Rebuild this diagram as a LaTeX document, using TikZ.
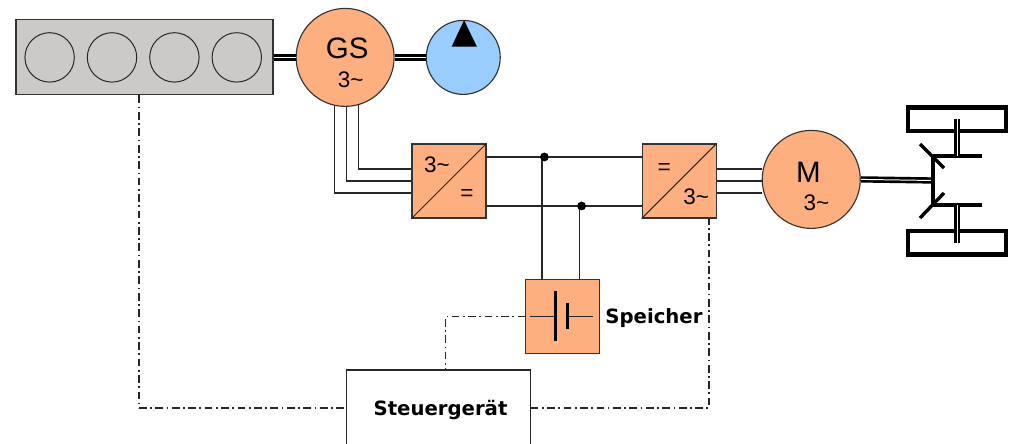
\documentclass[tikz,border=0pt]{standalone}
\usepackage{fontspec}
\setmainfont{Liberation Sans}
\newfontfamily\boldlabel{DejaVu Sans Bold}
\usepackage{tikz}
\usetikzlibrary{arrows.meta, positioning, calc}
\usepackage{xcolor}
\definecolor{elecorange}{HTML}{FDAF80}
\definecolor{enginegray}{HTML}{CBCAC8}
\definecolor{pumpblue}{HTML}{99CCFF}
\tikzstyle{machine} = [circle, draw=black!80, fill=elecorange, line width=0.8pt, minimum size=2.45cm, inner sep=0pt]
\tikzstyle{converter} = [rectangle, draw=black!80, fill=elecorange, line width=0.8pt, minimum size=1.85cm, inner sep=0pt]
\tikzstyle{cylinder} = [circle, draw=black!85, line width=0.7pt, minimum size=1.235cm, inner sep=0pt]
\tikzstyle{wheel} = [rectangle, draw=black, line width=3.2pt, minimum width=2.45cm, minimum height=0.59cm, inner sep=0pt]
\tikzstyle{junction} = [circle, fill=black, minimum size=0.22cm, inner sep=0pt]
\tikzstyle{bigtext} = [inner sep=0pt, font=\fontsize{21}{24}\selectfont]
\tikzstyle{phase} = [inner sep=0pt, font=\fontsize{16}{18}\selectfont]
\tikzstyle{boldtext} = [inner sep=0pt, font=\boldlabel\fontsize{14}{16}\selectfont]
\tikzstyle{wire} = [draw=black!85, line width=0.75pt]
\tikzstyle{shaft} = [draw=black, line width=1.9pt, double=white, double distance=0.7pt]
\tikzstyle{axle} = [draw=black, line width=2.4pt]
\tikzstyle{control} = [draw=black!85, line width=0.9pt, dash pattern=on 5.5pt off 2.5pt on 1.2pt off 2.5pt]

\begin{document}
\begin{tikzpicture}
  \clip (0,0) rectangle (25.275,11.075);

  % Combustion engine with generator and pump
  \node[rectangle, draw=black!80, fill=enginegray, line width=0.8pt, minimum width=6.425cm, minimum height=1.875cm, inner sep=0pt] (engine) at (3.6125,9.64) {};
  \node[cylinder, right=0.225cm of engine.west] (cyl1) {};
  \node[cylinder, right=0.3cm of cyl1] (cyl2) {};
  \node[cylinder, right=0.3cm of cyl2] (cyl3) {};
  \node[cylinder, right=0.3cm of cyl3] (cyl4) {};
  \node[machine, right=0.55cm of engine] (gs) {};
  \node[machine, fill=pumpblue, minimum size=1.85cm, right=0.775cm of gs] (pump) {};
  \node[bigtext] (gsname) at ([xshift=0.05cm,yshift=0.23cm]gs.center) {GS};
  \node[phase] (gsphase) at ([xshift=0.14cm,yshift=-0.56cm]gs.center) {3\textasciitilde};

  % Converters and traction motor
  \node[converter] (conva) at (11.225,6.55) {};
  \node[converter, right=3.875cm of conva] (convb) {};
  \node[machine, right=1.125cm of convb, yshift=0.04cm] (motor) {};
  \node[phase] (convain) at ([xshift=-0.3cm,yshift=0.4cm]conva.center) {3\textasciitilde};
  \node[phase] (convaout) at ([xshift=0.45cm,yshift=-0.35cm]conva.center) {=};
  \node[phase] (convbin) at ([xshift=-0.375cm,yshift=0.3cm]convb.center) {=};
  \node[phase] (convbout) at ([xshift=0.425cm,yshift=-0.4cm]convb.center) {3\textasciitilde};
  \node[bigtext] (motorname) at ([xshift=-0.07cm,yshift=0.17cm]motor.center) {M};
  \node[phase] (motorphase) at ([xshift=0.13cm,yshift=-0.58cm]motor.center) {3\textasciitilde};

  % Storage and control unit
  \node[converter] (speicher) at (14.07,3.17) {};
  \node[boldtext, right=0.12cm of speicher, yshift=-0.05cm] (speichername) {Speicher};
  \node[rectangle, draw=black!85, line width=0.8pt, minimum width=4.59cm, minimum height=2cm, inner sep=0pt, boldtext] (steuer) at (10.96,0.825) {\kern3pt Steuergerät};

  % Wheels
  \node[wheel] (wheelt) at (23.925,8.09) {};
  \node[wheel] (wheelb) at (23.925,5.01) {};
  \coordinate (axt) at (23.325,7.175);
  \coordinate (axb) at (23.325,5.95);
  \coordinate (axm) at ($(axt)!0.5!(axb)$);

  % Shafts
  \draw[shaft] (engine.east) -- (gs.west);
  \draw[shaft] (gs.east) -- (pump.west);
  \draw[shaft] (motor.east) -- (axm);
  \fill[black] ($(pump.center)+(0.02,0.93)$) -- ($(pump.center)+(-0.29,0.27)$) -- ($(pump.center)+(0.34,0.27)$) -- cycle;

  % Three phase wires
  \draw[wire] (gs.258) |- ([yshift=-0.3cm]conva.west);
  \draw[wire] (gs.272) |- (conva.west);
  \draw[wire] (gs.286) |- ([yshift=0.3cm]conva.west);
  \draw[wire] ([yshift=0.3cm]convb.east) -- ([yshift=0.3cm]convb.east -| motor.west);
  \draw[wire] (convb.east) -- (convb.east -| motor.west);
  \draw[wire] ([yshift=-0.3cm]convb.east) -- ([yshift=-0.3cm]convb.east -| motor.west);
  \draw[wire] (conva.south west) -- (conva.north east);
  \draw[wire] (convb.south west) -- (convb.north east);

  % DC link
  \coordinate (dct) at ([yshift=0.6cm]conva.east);
  \coordinate (dcb) at ([yshift=-0.625cm]conva.east);
  \coordinate (tapt) at ([xshift=-0.52cm]speicher.north |- dct);
  \coordinate (tapb) at ([xshift=0.41cm]speicher.north |- dcb);
  \draw[wire] (dct) -- (dct -| convb.west);
  \draw[wire] (dcb) -- (dcb -| convb.west);
  \draw[wire] (tapt) -- (tapt |- speicher.north);
  \draw[wire] (tapb) -- (tapb |- speicher.north);
  \node[junction] (jt) at ([xshift=0.06cm]tapt) {};
  \node[junction] (jb) at ([xshift=0.06cm]tapb) {};

  % Battery symbol
  \draw[wire] ([xshift=-0.82cm]speicher.center) -- ([xshift=-0.185cm]speicher.center);
  \draw[wire] ([xshift=0.115cm]speicher.center) -- ([xshift=0.75cm]speicher.center);
  \draw[draw=black, line width=2.4pt] ($(speicher.center)+(-0.185,0.625)$) -- ($(speicher.center)+(-0.185,-0.625)$);
  \draw[draw=black, line width=2.4pt] ($(speicher.center)+(0.115,0.325)$) -- ($(speicher.center)+(0.115,-0.325)$);

  % Rear axle
  \draw[axle] (axt) -- (axb);
  \draw[axle] (axt) -- ([xshift=1.225cm]axt);
  \draw[axle] (axb) -- ([xshift=1.225cm]axb);
  \draw[axle] ($(axt)+(-0.325,0.3)$) -- ($(axt)+(0.275,-0.3)$);
  \draw[axle] ($(axb)+(-0.325,-0.325)$) -- ($(axb)+(0.275,0.3)$);
  \draw[shaft] (wheelt.center) -- (wheelt |- axt);
  \draw[shaft] (wheelb.center) -- (wheelb |- axb);

  % Control lines
  \coordinate (ctrlleft) at ([yshift=0.05cm]steuer.west);
  \coordinate (ctrlright) at ([yshift=0.05cm]steuer.east);
  \coordinate (ctrlcorner) at ([xshift=-0.14cm]engine.south |- ctrlleft);
  \draw[control] ([xshift=-0.14cm]engine.south) -- (ctrlcorner);
  \draw[control, line width=1.9pt] (ctrlcorner) -- (ctrlleft);
  \draw[control] (speicher.west) -| ([xshift=0.18cm]steuer.north);
  \draw[control] (ctrlright) -| ([xshift=0.75cm]convb.south);
\end{tikzpicture}
\end{document}
